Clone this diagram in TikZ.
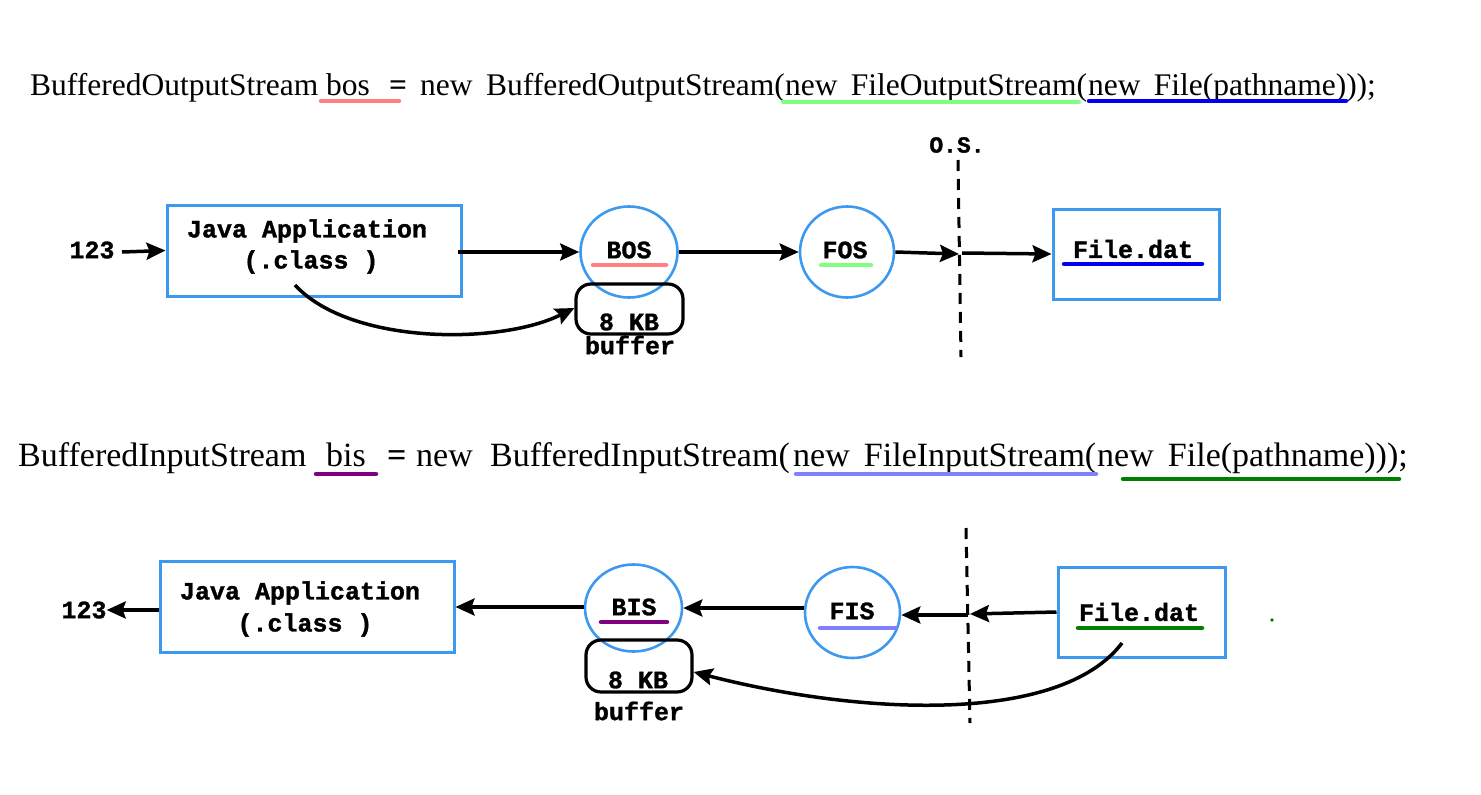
\documentclass[tikz,border=0pt]{standalone}
\usepackage{fontspec}
\usetikzlibrary{arrows.meta,shapes.geometric}
\newfontfamily\serifF{Liberation Serif}
\newfontfamily\monoF[BoldFeatures={FakeBold=1.3}]{Liberation Mono}
\definecolor{boxblue}{HTML}{3D99F0}
\definecolor{ulpink}{HTML}{FF8080}
\definecolor{ulgreen}{HTML}{80FF80}
\definecolor{ulblue}{HTML}{0000EE}
\definecolor{ulpurple}{HTML}{800080}
\definecolor{ullav}{HTML}{8080FF}
\definecolor{uldkgreen}{HTML}{008000}
\tikzset{
  codeA/.style={inner sep=0pt, anchor=base west, font=\serifF\fontsize{31.5}{34}\selectfont},
  codeB/.style={inner sep=0pt, anchor=base west, font=\serifF\fontsize{34}{37}\selectfont},
  mono/.style={inner sep=0pt, font=\monoF\bfseries\fontsize{25}{31}\selectfont},
  appbox/.style={draw=boxblue, line width=3pt, minimum width=294pt, minimum height=91pt, inner sep=0pt},
  filebox/.style={draw=boxblue, line width=3pt, minimum width=166pt, minimum height=90pt, inner sep=0pt},
  stream/.style={draw=boxblue, line width=2.6pt, ellipse, inner sep=0pt},
  buf/.style={draw=black, line width=3.2pt, rounded corners=15pt, inner sep=0pt},
  ul/.style={line width=4.5pt, line cap=round},
  arr/.style={line width=3.5pt, -{Stealth[length=19pt,width=17pt,inset=3pt]}},
  osline/.style={line width=3pt, dash pattern=on 11pt off 8pt},
}
\begin{document}
\begin{tikzpicture}[x=1pt,y=-1pt]
\path[use as bounding box] (0,0) rectangle (1481,795);
% ---------- top code line ----------
\node[codeA] (a1) at (30,95) {BufferedOutputStream};
\node[codeA] (a2) at (326,95) {bos};
\node[codeA, font=\serifF\bfseries\fontsize{31.5}{34}\selectfont] (a3) at (389,95) {=};
\node[codeA] (a4) at (420,95) {new};
\node[codeA] (a5) at (486,95) {BufferedOutputStream(};
\node[codeA] (a6) at (785,95) {new\, FileOutputStream(};
\node[codeA] (a7) at (1088,95) {new\, File(pathname)));};
\draw[ul, ulpink] (321,101) -- (399,101);
\draw[ul, ulgreen] (783,102) -- (1079,102);
\draw[ul, ulblue] (1089,101) -- (1346,101);
% ---------- top diagram ----------
\node[mono] (in1) at (92,250) {123};
\node[appbox] (jav1) at (314,250.5) {};
\node[mono] (jt1a) at (307,231) {Java Application};
\node[mono] (jt1b) at (311,262) {(.class )};
\node[stream, minimum width=97pt, minimum height=91pt] (bos) at (629,252) {};
\node[mono] (bost) at (629,250) {BOS};
\draw[ul, ulpink] (593,265) -- (666,265);
\node[buf, minimum width=107pt, minimum height=50pt] (buf1) at (629.5,309) {};
\node[mono] (kb1) at (629,322) {8 KB};
\node[mono] (bw1) at (630,345) {buffer};
\node[stream, minimum width=94pt, minimum height=91pt] (fos) at (847,252) {};
\node[mono] (fost) at (845,250) {FOS};
\draw[ul, ulgreen] (821,265) -- (871,265);
\node[filebox] (file1) at (1136,254) {};
\node[mono] (filet1) at (1133,249) {File.dat};
\draw[ul, ulblue] (1064,264) -- (1202,264);
\node[mono, font=\monoF\bfseries\fontsize{23}{28}\selectfont] (os) at (957,145) {O.S.};
\coordinate (os1top) at (958,160);
\coordinate (os1bot) at (961,357);
\draw[osline] (os1top) -- (os1bot);
\coordinate (os1mid) at (959,254);
\coordinate (os1out) at (962,253);
\draw[arr] (122,252) -- (jav1.west);
\draw[arr] (458,252) -- (bos.west);
\draw[arr] (bos.east) -- (fos.west);
\draw[arr] (fos.east) -- (os1mid);
\draw[arr] (os1out) -- (file1.west);
\coordinate (c1s) at (295,285);
\draw[arr] (c1s) .. controls (350,345) and (500,345) .. (buf1.west |- 0,308);
% ---------- bottom code line ----------
\node[codeB] (b1) at (18,466) {BufferedInputStream};
\node[codeB] (b2) at (326,466) {bis};
\node[codeB, font=\serifF\bfseries\fontsize{34}{37}\selectfont] (b3) at (387,466) {=};
\node[codeB] (b4) at (416,466) {new};
\node[codeB] (b5) at (490,466) {BufferedInputStream(};
\node[codeB] (b6) at (793,466) {new\, FileInputStream(};
\node[codeB] (b7) at (1097,466) {new\, File(pathname)));};
\draw[ul, ulpurple] (316,474) -- (376,474);
\draw[ul, ullav] (796,474) -- (1096,474);
\draw[ul, uldkgreen] (1123,479) -- (1399,479);
% ---------- bottom diagram ----------
\node[mono] (out2) at (84,610) {123};
\node[appbox] (jav2) at (307,607) {};
\node[mono] (jt2a) at (300,593) {Java Application};
\node[mono] (jt2b) at (305,625) {(.class )};
\node[stream, minimum width=97pt, minimum height=87pt] (bis) at (633.5,608) {};
\node[mono] (bist) at (634,607) {BIS};
\draw[ul, ulpurple] (601,622) -- (667,622);
\node[buf, minimum width=106pt, minimum height=52pt] (buf2) at (639,666) {};
\node[mono] (kb2) at (638,680) {8 KB};
\node[mono] (bw2) at (639,711) {buffer};
\node[stream, minimum width=95pt, minimum height=91pt] (fis) at (852.5,612.5) {};
\node[mono] (fist) at (852,611) {FIS};
\draw[ul, ullav] (820,628) -- (895,628);
\node[filebox, minimum width=167pt] (file2) at (1141.5,612) {};
\node[mono] (filet2) at (1139,612) {File.dat};
\draw[ul, uldkgreen] (1078,628) -- (1202,628);
\coordinate (os2top) at (966,528);
\coordinate (os2bot) at (970,723);
\draw[osline] (os2top) -- (os2bot);
\coordinate (os2mid) at (968,615);
\coordinate (os2in) at (970,614);
\draw[arr] (file2.west) -- (os2in);
\draw[arr] (os2mid) -- (fis.east |- 0,615);
\draw[arr] (fis.west |- 0,608) -- (bis.east |- 0,608);
\draw[arr] (bis.west |- 0,607) -- (jav2.east);
\draw[arr] (jav2.west |- 0,610) -- (out2.east);
\coordinate (c2s) at (1122,643);
\draw[arr] (c2s) .. controls (1060,725) and (860,715) .. (buf2.east |- 0,672);
\fill[uldkgreen] (1272,620) circle (1.8pt);
\end{tikzpicture}
\end{document}
